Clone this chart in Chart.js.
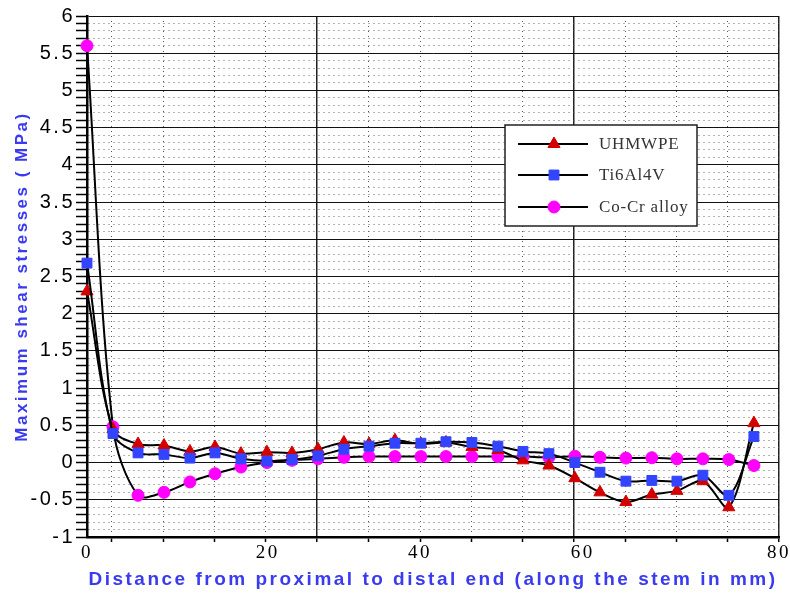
<!DOCTYPE html>
<html>
<head>
<meta charset="utf-8">
<title>Maximum shear stresses along the stem</title>
<script src="https://cdn.jsdelivr.net/npm/chart.js@4.4.1/dist/chart.umd.min.js"></script>
<style>
  html, body { margin: 0; padding: 0; background: #fff; }
  #wrap { width: 790px; height: 599px; }
</style>
</head>
<body>
<div id="wrap"><canvas id="chart" width="790" height="599"></canvas></div>
<script>
// distance from the proximal end (mm)
const distance = [0, 3.0, 5.9, 8.9, 11.9, 14.8, 17.8, 20.8, 23.7, 26.7, 29.7, 32.6, 35.6, 38.6,
                  41.5, 44.5, 47.5, 50.4, 53.4, 56.4, 59.3, 62.3, 65.3, 68.2, 71.2, 74.2, 77.1];

// maximum shear stress (MPa) per stem material
const uhmwpe  = [2.30, 0.45, 0.25, 0.23, 0.15, 0.21, 0.12, 0.14, 0.13, 0.18, 0.27, 0.25, 0.30, 0.25,
                 0.27, 0.21, 0.17, 0.03, -0.04, -0.21, -0.40, -0.53, -0.43, -0.38, -0.25, -0.60, 0.53];
const ti6al4v = [2.68, 0.39, 0.13, 0.11, 0.06, 0.13, 0.05, 0.02, 0.04, 0.09, 0.18, 0.22, 0.26, 0.26,
                 0.28, 0.27, 0.22, 0.15, 0.12, 0.00, -0.13, -0.25, -0.24, -0.25, -0.17, -0.44, 0.35];
const coCr    = [5.60, 0.48, -0.44, -0.40, -0.26, -0.15, -0.06, 0.00, 0.03, 0.05, 0.07, 0.08, 0.08, 0.08,
                 0.08, 0.08, 0.08, 0.08, 0.07, 0.085, 0.07, 0.06, 0.065, 0.05, 0.05, 0.04, -0.04];

// vertical grid lines and the x tick labels
const xGrid = [2.8, 8.8, 14.7, 20.6, 26.6, 32.5, 38.5, 44.4, 50.4, 56.3, 62.2, 68.2, 74.1, 80];
const xGridSolid = [26.6, 56.3, 80];
const xLabelAt = [0, 20.9, 38.5, 57.3, 80];
const xLabelText = ['0', '20', '40', '60', '80'];

const BLUE = '#3a3af0';
const DOTS = [1, 4];
const labelMap = new Map(xLabelAt.map((v, i) => [v, xLabelText[i]]));
const gridSet = new Set(xGrid);

const isHalf = v => Math.abs(v * 2 - Math.round(v * 2)) < 1e-6;

function series(label, values, style, color, radius, order) {
  return {
    label: label,
    data: values.map((y, i) => ({ x: distance[i], y: y })),
    borderColor: '#000',
    borderWidth: 2,
    tension: 0.33,
    pointStyle: style,
    pointRadius: radius,
    pointBackgroundColor: color,
    pointBorderColor: color,
    pointBorderWidth: 1,
    clip: false,
    order: order
  };
}

// wide letter spacing for the axis texts
const spacedText = {
  id: 'spacedText',
  beforeDraw(chart) { chart.ctx.letterSpacing = '2.5px'; },
  beforeDatasetsDraw(chart) { chart.ctx.letterSpacing = '0px'; }
};

// legend box drawn inside the plot area
const boxLegend = {
  id: 'boxLegend',
  afterDraw(chart) {
    const ctx = chart.ctx;
    const x = 505, y = 125, w = 192, h = 101;
    ctx.save();
    ctx.fillStyle = '#fff';
    ctx.fillRect(x, y, w, h);
    ctx.strokeStyle = '#222';
    ctx.lineWidth = 1.5;
    ctx.strokeRect(x, y, w, h);
    const rows = [144, 175, 207];
    chart.data.datasets.forEach((ds, i) => {
      const ry = rows[i];
      ctx.strokeStyle = '#000';
      ctx.lineWidth = 2;
      ctx.beginPath();
      ctx.moveTo(518, ry);
      ctx.lineTo(588, ry);
      ctx.stroke();
      ctx.fillStyle = ds.pointBackgroundColor;
      ctx.strokeStyle = ds.pointBorderColor;
      ctx.lineWidth = 1;
      Chart.helpers.drawPoint(ctx, { pointStyle: ds.pointStyle, radius: ds.pointRadius, rotation: 0, borderWidth: 1 }, 554, ry);
      ctx.fillStyle = '#333';
      ctx.letterSpacing = '0.8px';
      ctx.font = '17px "Liberation Serif", serif';
      ctx.textBaseline = 'middle';
      ctx.textAlign = 'left';
      ctx.fillText(ds.label, 599, ry + 1);
    });
    ctx.restore();
  }
};

const ctx = document.getElementById('chart').getContext('2d');

new Chart(ctx, {
  type: 'line',
  data: {
    datasets: [
      series('UHMWPE', uhmwpe, 'triangle', '#d40000', 7, 1),
      series('Ti6Al4V', ti6al4v, 'rect', '#3344ff', 7, 0),
      series('Co-Cr alloy', coCr, 'circle', '#ff00ff', 6, 2)
    ]
  },
  options: {
    responsive: false,
    animation: false,
    devicePixelRatio: 1,
    layout: { padding: { top: 16, right: 11, left: 0, bottom: 0 } },
    plugins: {
      legend: { display: false },
      tooltip: { enabled: false }
    },
    scales: {
      x: {
        type: 'linear',
        min: 0,
        max: 80,
        afterFit(scale) { scale.height = 62; },
        afterBuildTicks(scale) {
          const vals = Array.from(new Set([...xGrid, ...xLabelAt])).sort((a, b) => a - b);
          scale.ticks = vals.map(v => ({ value: v }));
        },
        ticks: {
          autoSkip: false,
          maxRotation: 0,
          padding: 0,
          color: '#000',
          font: { family: '"Liberation Serif", serif', size: 19 },
          callback: v => labelMap.get(v) ?? ''
        },
        grid: {
          color: c => {
            if (!c.tick || !gridSet.has(c.tick.value)) return 'rgba(0,0,0,0)';
            return xGridSolid.includes(c.tick.value) ? '#222' : '#555';
          },
          lineWidth: c => (c.tick && xGridSolid.includes(c.tick.value)) ? 1.5 : 1,
          tickLength: 5,
          tickColor: c => (c.tick && gridSet.has(c.tick.value)) ? '#000' : 'rgba(0,0,0,0)',
          tickWidth: 1.5
        },
        border: {
          display: true,
          color: '#000',
          width: 2.5,
          dash: c => (c.tick && !xGridSolid.includes(c.tick.value)) ? DOTS : []
        },
        title: {
          display: true,
          text: 'Distance from proximal to distal end (along the stem in mm)',
          color: BLUE,
          font: { family: '"Liberation Sans", Arial, sans-serif', size: 19, weight: 'bold' },
          padding: { top: 0, bottom: 8 }
        }
      },
      y: {
        min: -1,
        max: 6,
        afterFit(scale) { scale.width = 87; },
        ticks: {
          stepSize: 0.1,
          autoSkip: false,
          padding: 1,
          color: '#000',
          font: { family: '"Liberation Sans", Arial, sans-serif', size: 20 },
          callback: v => isHalf(v) ? String(Number(v.toFixed(1)) + 0) : ''
        },
        grid: {
          color: c => (c.tick && isHalf(c.tick.value)) ? '#111' : '#666',
          lineWidth: 1,
          tickLength: 11,
          tickColor: '#000',
          tickWidth: 1.5
        },
        border: {
          display: true,
          color: '#000',
          width: 2.5,
          dash: c => (c.tick && !isHalf(c.tick.value)) ? DOTS : []
        },
        title: {
          display: true,
          text: 'Maximum shear stresses ( MPa)',
          color: BLUE,
          font: { family: '"Liberation Sans", Arial, sans-serif', size: 17, weight: 'bold' },
          padding: { top: 12, bottom: 0 }
        }
      }
    }
  },
  plugins: [spacedText, boxLegend]
});
</script>
</body>
</html>
